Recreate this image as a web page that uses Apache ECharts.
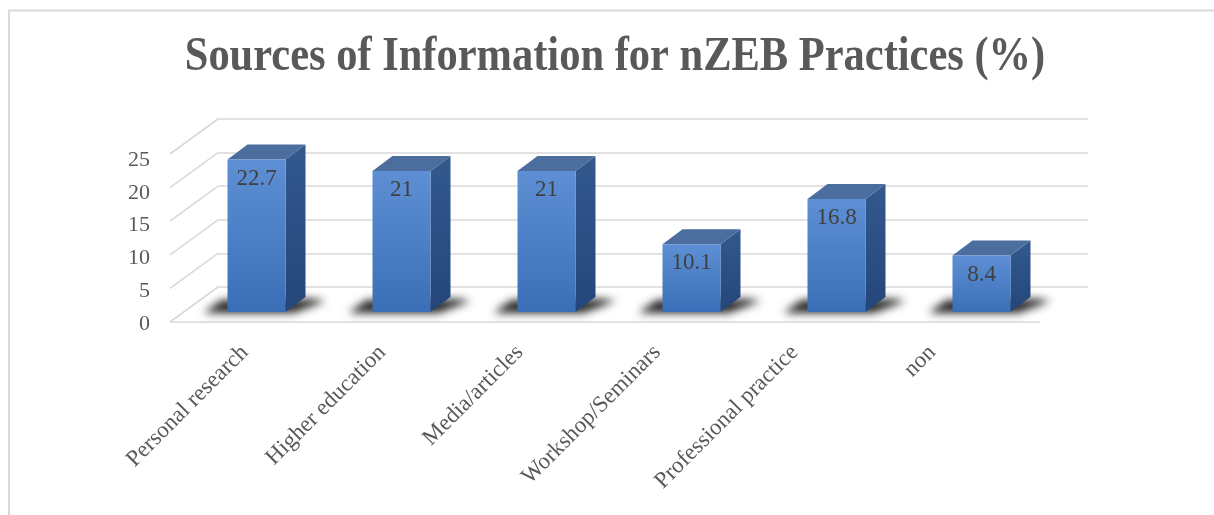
<!DOCTYPE html>
<html>
<head>
<meta charset="utf-8">
<script src="https://cdn.jsdelivr.net/npm/echarts@6/dist/echarts.min.js"></script>
<style>
html,body{margin:0;padding:0;background:#fff;}
#chart{width:1214px;height:515px;}
</style>
</head>
<body>
<div id="chart"></div>
<script>
const categories = ['Personal research', 'Higher education', 'Media/articles', 'Workshop/Seminars', 'Professional practice', 'non'];
const values = [22.7, 21, 21, 10.1, 16.8, 8.4];
const yTicks = [0, 5, 10, 15, 20, 25];
const titleText = 'Sources of Information for nZEB Practices (%)';

// 3D projection constants (pixels)
const DEPTH = [48, -35];        // front edge -> back wall
const FRONT_OFF = [-34, 25];    // back wall -> bar front face
const SIDE = [20, -15];         // bar front face -> bar back face
const SHADOW_SHIFT = 3000;      // draw shadow caster off-screen, keep only its blur
const FONT = 'Liberation Serif, Times New Roman, serif';

const chart = echarts.init(document.getElementById('chart'), null, {renderer: 'canvas'});

function wallItem(params, api) {
  const v = api.value(1);
  const band = api.size([1, 0])[0];
  const p = api.coord([0, v]);
  const backX = p[0] - band / 2;
  const backY = p[1];
  const fx = backX - DEPTH[0], fy = backY - DEPTH[1];
  const style = {stroke: '#d9d9d9', lineWidth: 1.6};
  const children = [{
    type: 'line', shape: {x1: backX, y1: backY, x2: fx, y2: fy}, style: style
  }];
  if (v === 0) {
    const pr = api.coord([categories.length - 1, 0]);
    const rx = pr[0] + band / 2 - DEPTH[0];
    children.push({type: 'line', shape: {x1: fx, y1: fy, x2: rx, y2: fy}, style: style});
  }
  return {type: 'group', children: children};
}

function barItem(params, api) {
  const i = api.value(0), v = api.value(1);
  const band = api.size([1, 0])[0];
  const w = band * 0.4;
  const t = api.coord([i, v]);
  const b = api.coord([i, 0]);
  const x0 = t[0] - w / 2 + FRONT_OFF[0];
  const x1 = x0 + w;
  const yT = t[1] + FRONT_OFF[1];
  const yB = b[1] + FRONT_OFF[1];
  const sx = SIDE[0], sy = SIDE[1];
  const S = SHADOW_SHIFT;
  return {
    type: 'group',
    children: [
      {
        type: 'polygon',
        shape: {points: [[x0 - 24 - S, yB + 1], [x0 - 6 - S, yB - 12], [x1 + sx + 8 - S, yB - 13], [x1 + sx + 20 - S, yB - 11], [x1 + 8 - S, yB + 1]]},
        style: {fill: '#000', shadowBlur: 9, shadowOffsetX: S, shadowOffsetY: 0, shadowColor: 'rgba(0,0,0,0.85)'}
      },
      {
        type: 'polygon',
        shape: {points: [[x1, yT], [x1 + sx, yT + sy], [x1 + sx, yB + sy], [x1, yB]]},
        style: {fill: new echarts.graphic.LinearGradient(0, 0, 0, 1, [
          {offset: 0, color: '#33598f'}, {offset: 1, color: '#24467a'}])}
      },
      {
        type: 'polygon',
        shape: {points: [[x0, yT], [x0 + sx, yT + sy], [x1 + sx, yT + sy], [x1, yT]]},
        style: {fill: '#4b6e9f'}
      },
      {
        type: 'rect',
        shape: {x: x0, y: yT, width: w, height: yB - yT},
        style: {fill: new echarts.graphic.LinearGradient(0, 0, 0, 1, [
          {offset: 0, color: '#5e8fd4'}, {offset: 1, color: '#3a6fb7'}])}
      },
      {
        type: 'text',
        style: {
          x: (x0 + x1) / 2, y: yT + 19, text: String(v),
          font: '23px ' + FONT, fill: '#404040', align: 'center', verticalAlign: 'middle'
        }
      }
    ]
  };
}

const option = {
  backgroundColor: '#ffffff',
  animation: false,
  graphic: [
    {
      type: 'rect',
      shape: {x: 9, y: 10.5, width: 1400, height: 800},
      style: {fill: 'none', stroke: '#d9d9d9', lineWidth: 2},
      silent: true
    },
    {
      type: 'text',
      x: 615, y: 58, scaleX: 0.885,
      style: {
        text: titleText, font: 'bold 48px ' + FONT, fill: '#595959',
        align: 'center', verticalAlign: 'middle'
      }
    }
  ],
  grid: [
    {left: 218, top: 119, width: 870, height: 168},   // back wall
    {left: 170, top: 160, width: 870, height: 164},   // front plane (value labels)
    {left: 176, top: 154, width: 825, height: 168}    // category labels
  ],
  xAxis: [
    {gridIndex: 0, type: 'category', data: categories, show: false},
    {gridIndex: 1, type: 'category', data: categories, show: false},
    {gridIndex: 2, type: 'category', data: categories,
      axisLine: {show: false}, axisTick: {show: false},
      axisLabel: {interval: 0, rotate: 45, margin: 27, fontFamily: FONT, fontSize: 23, color: '#595959'}}
  ],
  yAxis: [
    {gridIndex: 0, type: 'value', min: 0, max: 25, interval: 5,
      axisLine: {show: false}, axisTick: {show: false}, axisLabel: {show: false},
      splitLine: {lineStyle: {color: '#d9d9d9', width: 1.6}}},
    {gridIndex: 1, type: 'value', min: 0, max: 25, interval: 5,
      axisLine: {show: false}, axisTick: {show: false}, splitLine: {show: false},
      axisLabel: {margin: 20, fontFamily: FONT, fontSize: 22, color: '#595959'}},
    {gridIndex: 2, type: 'value', min: 0, max: 25, show: false}
  ],
  series: [
    {
      type: 'custom', name: 'walls', xAxisIndex: 0, yAxisIndex: 0, z: 1,
      renderItem: wallItem, data: yTicks.map(v => [0, v]), silent: true
    },
    {
      type: 'custom', name: 'bars', xAxisIndex: 0, yAxisIndex: 0, z: 5,
      renderItem: barItem, data: values.map((v, i) => [i, v])
    }
  ]
};
chart.setOption(option);
</script>
</body>
</html>
